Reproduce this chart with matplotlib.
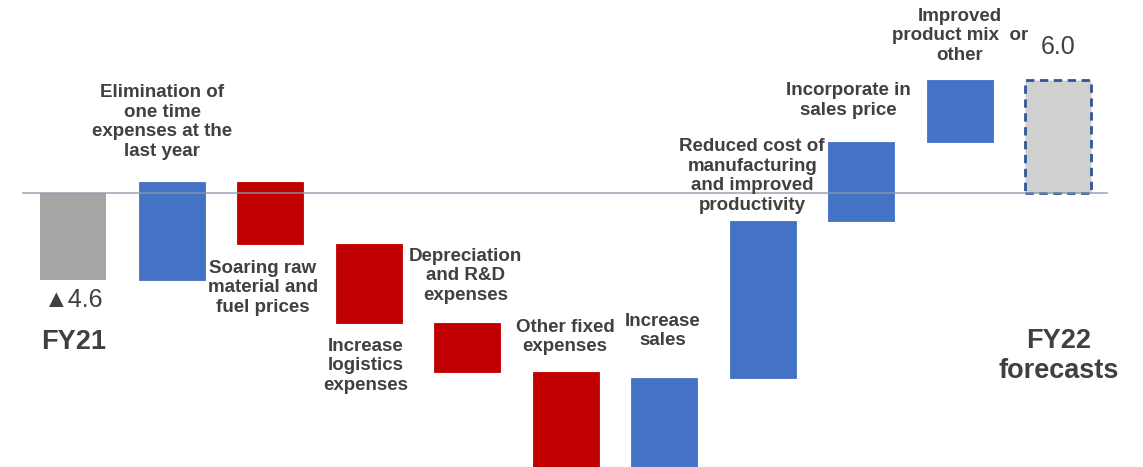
import numpy as np
import matplotlib.pyplot as plt

# data (operating income bridge, FY21 -> FY22 forecasts)
start_label = "FY21"
start_value = -4.6
end_label = "FY22\nforecasts"
end_value = 6.0

step_labels = [
    "Elimination of\none time\nexpenses at the\nlast year",
    "Soaring raw\nmaterial and\nfuel prices",
    "Increase\nlogistics\nexpenses",
    "Depreciation\nand R&D\nexpenses",
    "Other fixed\nexpenses",
    "Increase\nsales",
    "Reduced cost of\nmanufacturing\nand improved\nproductivity",
    "Incorporate in\nsales price",
    "Improved\nproduct mix  or\nother",
]
step_changes = [5.2, -3.3, -4.2, -2.6, -6.0, 5.7, 8.3, 4.2, 3.3]

# label anchor positions (x in bar index, y in data units)
label_pos = [(0.90, 3.77), (1.92, -5.04), (2.97, -9.18), (3.98, -4.40),
             (4.99, -7.64), (5.98, -7.32), (6.89, 0.90), (7.87, 4.93),
             (9.00, 8.33)]

BLUE = "#4472C4"
RED = "#C00000"
GREY = "#A6A6A6"
TXT = "#404040"

plt.rcParams['font.family'] = ['Liberation Sans', 'DejaVu Sans']

fig = plt.figure(figsize=(11.43, 4.67), dpi=100)
ax = fig.add_axes([0, 0, 1, 1])
ax.set_xlim(-0.746, 10.858)
ax.set_ylim(-14.54, 10.24)
ax.axis("off")

w = 0.67
n = len(step_changes)

# start bar
ax.bar(0, start_value, w, color=GREY, zorder=2)

# floating steps
totals = start_value + np.cumsum(step_changes)
bottoms = np.concatenate([[start_value], totals[:-1]])
for i, (b, c) in enumerate(zip(bottoms, step_changes)):
    col = BLUE if c > 0 else RED
    ax.bar(i + 1, c, w, bottom=b, color=col, edgecolor=col, linewidth=0.6, zorder=2)

# end bar
ax.bar(n + 1, end_value, w, color="#D0D0D0", edgecolor="#2F5597",
       linewidth=2, linestyle=(0, (3, 2)), zorder=2)

# zero line drawn over the bars
ax.plot([-0.513, 10.49], [0, 0], color="#8C99AB", alpha=0.75, lw=1.3, zorder=3)

for lab, (x, y) in zip(step_labels, label_pos):
    ax.text(x, y, lab, ha="center", va="center", fontsize=13.5, fontweight="bold",
            color=TXT, linespacing=1.22)

ax.text(0, -5.68, "\u25B2" + f"{abs(start_value):.1f}", ha="center", va="center",
        fontsize=18, color=TXT)
ax.text(0, -7.9, start_label, ha="center", va="center", fontsize=19.5,
        fontweight="bold", color=TXT)
ax.text(n + 1, 7.75, f"{end_value:.1f}", ha="center", va="center",
        fontsize=18, color=TXT)
ax.text(n + 1, -8.65, end_label, ha="center", va="center", fontsize=19.5,
        fontweight="bold", color=TXT, linespacing=1.2)

plt.savefig("out.png", dpi=100)
